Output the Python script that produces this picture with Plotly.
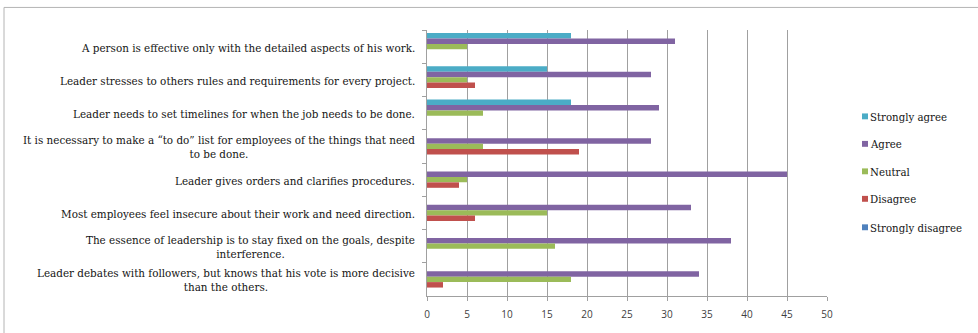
import plotly.graph_objects as go

# Survey statements (top to bottom)
categories = [
    "A person is effective only with the detailed aspects of his work.",
    "Leader stresses to others rules and requirements for every project.",
    "Leader needs to set timelines for when the job needs to be done.",
    "It is necessary to make a \u201cto do\u201d list for employees of the things that need<br>to be done.",
    "Leader gives orders and clarifies procedures.",
    "Most employees feel insecure about their work and need direction.",
    "The essence of leadership is to stay fixed on the goals, despite<br>interference.",
    "Leader debates with followers, but knows that his vote is more decisive<br>than the others.",
]

series_names = ["Strongly agree", "Agree", "Neutral", "Disagree", "Strongly disagree"]
strongly_agree = [18, 15, 18, 0, 0, 0, 0, 0]
agree = [31, 28, 29, 28, 45, 33, 38, 34]
neutral = [5, 5, 7, 7, 5, 15, 16, 18]
disagree = [0, 6, 0, 19, 4, 6, 0, 2]
strongly_disagree = [0, 0, 0, 0, 0, 0, 0, 0]
series_values = [strongly_agree, agree, neutral, disagree, strongly_disagree]
series_colors = ["#4BACC6", "#8064A2", "#9BBB59", "#C0504D", "#4F81BD"]

x_ticks = [0, 5, 10, 15, 20, 25, 30, 35, 40, 45, 50]

W, H = 978, 333
L, R, T, B = 427, 151, 30, 32
PW, PH = W - L - R, H - T - B


def px_x(px):
    return (px - L) / PW


def px_y(py):
    return (H - B - py) / PH


serif = "DejaVu Serif"
grid = "#a0a0a0"
text_color = "#141414"

fig = go.Figure()
keys = list(range(len(categories)))
for name, vals, col in zip(series_names, series_values, series_colors):
    fig.add_trace(go.Bar(
        y=keys, x=vals, name=name, orientation="h",
        marker=dict(color=col, line=dict(width=0)),
        showlegend=False,
    ))

# category labels, right-aligned to the axis, wrapped lines centered
for k, text in zip(keys, categories):
    fig.add_annotation(
        x=px_x(417), xref="paper", y=k, yref="y", yshift=-1,
        text=text, showarrow=False, xanchor="right", align="center",
        font=dict(family=serif, size=10.4, color=text_color),
    )

# legend: small squares with series names
legend_y = [118, 146, 174, 202, 231]
for name, col, ly in zip(series_names, series_colors, legend_y):
    fig.add_shape(
        type="rect", xref="paper", yref="paper",
        x0=px_x(862), x1=px_x(868), y0=px_y(ly + 3), y1=px_y(ly - 3),
        fillcolor=col, line=dict(width=0),
    )
    fig.add_annotation(
        x=px_x(868), xref="paper", y=px_y(ly), yref="paper", yshift=-1,
        text=name, showarrow=False, xanchor="left", yanchor="middle",
        font=dict(family=serif, size=10.2, color=text_color),
    )

# outer chart frame
fig.add_shape(
    type="rect", xref="paper", yref="paper",
    x0=px_x(4), x1=px_x(990), y0=px_y(345), y1=px_y(7),
    line=dict(color="#b4b4b4", width=1), fillcolor="rgba(0,0,0,0)", layer="below",
)

fig.update_layout(
    width=W, height=H,
    margin=dict(l=L, r=R, t=T, b=B),
    paper_bgcolor="white", plot_bgcolor="white",
    barmode="group", bargap=0.18, bargroupgap=0,
    xaxis=dict(
        range=[0, 50], tickvals=x_ticks, ticktext=[str(v) for v in x_ticks],
        showgrid=True, gridcolor=grid, gridwidth=1, zeroline=False,
        showline=True, linecolor=grid, linewidth=1,
        ticks="outside", ticklen=4, tickcolor=grid, ticklabelstandoff=5,
        tickfont=dict(family="Open Sans", size=10, color="#404040"),
    ),
    yaxis=dict(
        type="category", autorange="reversed",
        showticklabels=False, showgrid=False, zeroline=False,
        showline=True, linecolor=grid, linewidth=1,
        ticks="outside", tickson="boundaries", ticklen=4, tickcolor=grid,
    ),
    showlegend=False,
)

fig.write_html("out.html")
